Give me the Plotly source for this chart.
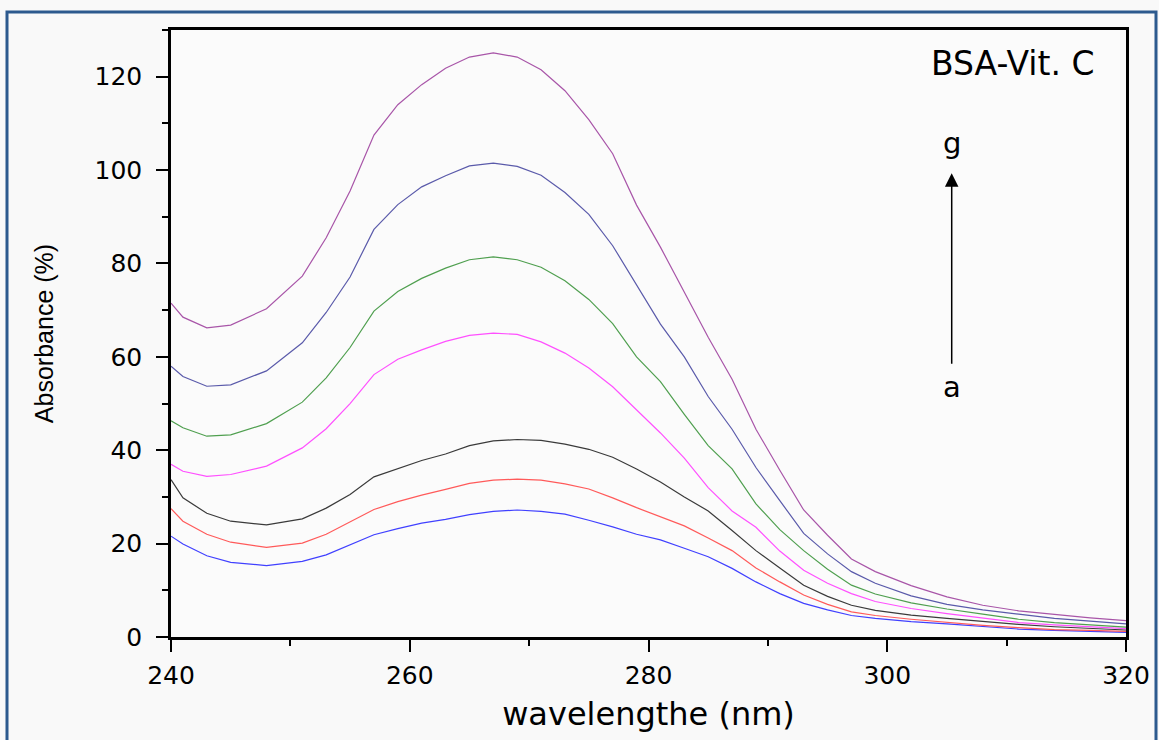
import plotly.graph_objects as go

wavelength = [240, 241, 243, 245, 248, 251, 253, 255, 257, 259, 261, 263, 265, 267, 269,
              271, 273, 275, 277, 279, 281, 283, 285, 287, 289, 291, 293, 295, 297, 299,
              302, 305, 308, 311, 314, 317, 320]

curve_a = [21.6, 19.9, 17.4, 16.0, 15.3, 16.2, 17.6, 19.8, 21.9, 23.2, 24.4, 25.2, 26.2, 26.9, 27.2,
           26.9, 26.3, 25.0, 23.6, 22.0, 20.8, 19.0, 17.2, 14.7, 11.8, 9.3, 7.2, 5.8, 4.6, 4.0,
           3.3, 2.8, 2.3, 1.7, 1.4, 1.2, 1.0]
curve_b = [27.5, 24.8, 22.0, 20.3, 19.2, 20.1, 22.0, 24.6, 27.3, 29.0, 30.4, 31.6, 32.9, 33.6, 33.8,
           33.6, 32.8, 31.7, 29.8, 27.7, 25.8, 23.8, 21.2, 18.5, 14.8, 11.8, 9.0, 7.0, 5.4, 4.6,
           3.8, 3.1, 2.5, 2.0, 1.6, 1.4, 1.2]
curve_c = [33.7, 29.8, 26.5, 24.8, 24.0, 25.3, 27.6, 30.5, 34.3, 36.0, 37.8, 39.2, 41.0, 42.0, 42.3,
           42.1, 41.3, 40.2, 38.5, 36.0, 33.2, 30.0, 27.0, 22.8, 18.5, 14.8, 11.1, 8.7, 6.8, 5.7,
           4.7, 4.0, 3.3, 2.7, 2.2, 1.8, 1.5]
curve_d = [37.0, 35.5, 34.4, 34.8, 36.6, 40.5, 44.6, 50.0, 56.2, 59.5, 61.5, 63.3, 64.6, 65.1, 64.8,
           63.2, 60.8, 57.6, 53.6, 48.6, 43.7, 38.3, 32.0, 27.0, 23.5, 18.4, 14.3, 11.5, 9.3, 7.6,
           6.1, 5.0, 4.0, 3.1, 2.6, 2.2, 1.8]
curve_e = [46.3, 44.8, 43.0, 43.3, 45.7, 50.3, 55.5, 62.0, 69.8, 74.0, 76.8, 79.0, 80.8, 81.4, 80.8,
           79.2, 76.3, 72.3, 67.1, 60.0, 54.7, 47.7, 41.0, 36.0, 28.5, 23.0, 18.5, 14.5, 11.1, 9.2,
           7.3, 6.0, 4.9, 3.8, 3.1, 2.6, 2.1]
curve_f = [58.0, 55.8, 53.7, 54.0, 57.0, 63.0, 69.5, 77.1, 87.3, 92.6, 96.4, 98.8, 100.9, 101.5, 100.8,
           98.9, 95.2, 90.5, 83.8, 75.5, 67.0, 60.0, 51.5, 44.5, 36.3, 29.2, 22.2, 17.8, 14.0, 11.5,
           8.8, 7.0, 5.8, 4.9, 4.0, 3.4, 2.8]
curve_g = [71.5, 68.5, 66.2, 66.8, 70.3, 77.3, 85.5, 95.5, 107.5, 114.0, 118.3, 121.8, 124.2, 125.1, 124.2,
           121.5, 117.0, 110.8, 103.5, 92.5, 83.5, 74.0, 64.2, 55.2, 44.5, 35.7, 27.2, 21.8, 16.7, 14.0,
           11.0, 8.6, 6.8, 5.6, 4.8, 4.1, 3.5]

series_names = ["a", "b", "c", "d", "e", "f", "g"]
series_values = [curve_a, curve_b, curve_c, curve_d, curve_e, curve_f, curve_g]
series_colors = ["#4040ff", "#ff5a5a", "#3a3a3a", "#ff50ff", "#4f9f4f", "#5a5aaa", "#a855a8"]

x_ticks = [240, 260, 280, 300, 320]
y_ticks = [0, 20, 40, 60, 80, 100, 120]

fig = go.Figure()
for name, vals, col in zip(series_names, series_values, series_colors):
    fig.add_trace(go.Scatter(x=wavelength, y=vals, mode="lines", name=name,
                             line=dict(color=col, width=1.2), showlegend=False))

axis_common = dict(showline=True, linecolor="black", linewidth=2.5, mirror=True,
                   ticks="outside", ticklen=12, tickwidth=2, tickcolor="black",
                   showgrid=False, zeroline=False,
                   tickfont=dict(family="DejaVu Sans", size=25, color="black"))

fig.update_xaxes(range=[240, 320], tickvals=x_ticks, ticktext=[str(v) for v in x_ticks],
                 minor=dict(ticks="outside", ticklen=6, tickwidth=2, tickcolor="black", dtick=10, tick0=240),
                 title=dict(text="wavelengthe (nm)", font=dict(family="DejaVu Sans", size=32, color="black"),
                            standoff=14),
                 ticklabelstandoff=2,
                 **axis_common)
fig.update_yaxes(range=[0, 130], tickvals=y_ticks, ticktext=[str(v) for v in y_ticks],
                 minor=dict(ticks="outside", ticklen=6, tickwidth=2, tickcolor="black", dtick=10, tick0=0),
                 title=dict(text="Absorbance (%)", font=dict(family="Liberation Sans", size=25, color="black"),
                            standoff=34),
                 ticklabelstandoff=9,
                 **axis_common)

fig.add_annotation(x=310.5, y=122.8, xref="x", yref="y", text="BSA-Vit. C", showarrow=False,
                   font=dict(family="DejaVu Sans", size=33, color="black"))
fig.add_annotation(x=305.4, y=105.7, xref="x", yref="y", text="g", showarrow=False,
                   font=dict(family="DejaVu Sans", size=29, color="black"))
fig.add_annotation(x=305.4, y=53.6, xref="x", yref="y", text="a", showarrow=False,
                   font=dict(family="DejaVu Sans", size=29, color="black"))
fig.add_annotation(x=305.4, y=99.3, ax=305.4, ay=58.2, xref="x", yref="y", axref="x", ayref="y",
                   text="", showarrow=True, arrowhead=2, arrowsize=1.8, arrowwidth=1.5, arrowcolor="black")

# outer frame
fig.add_shape(type="rect", xref="paper", yref="paper",
              x0=(7 - 171) / 955, x1=(1156 - 171) / 955,
              y0=1 - (745 - 30) / 607, y1=1 + (30 - 12) / 607,
              line=dict(color="#2d5a8e", width=3), fillcolor="rgba(0,0,0,0)", layer="below")

fig.update_layout(width=1159, height=740,
                  margin=dict(l=171, r=33, t=30, b=103, autoexpand=False),
                  paper_bgcolor="#f9f9f9", plot_bgcolor="#fbfbfb",
                  font=dict(family="DejaVu Sans", color="black"))

fig.write_html("out.html")
